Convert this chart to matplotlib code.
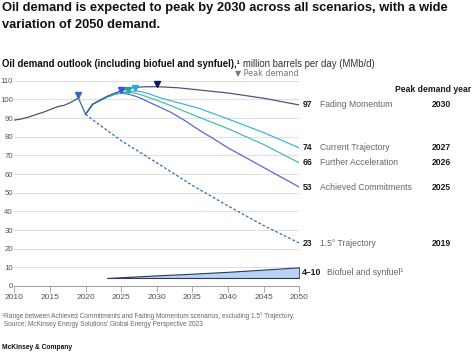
import matplotlib
matplotlib.use("Agg")
import matplotlib.pyplot as plt

plt.rcParams['font.family'] = ['Liberation Sans', 'DejaVu Sans']

# ---------------- data ----------------
hist_years = [2010, 2011, 2012, 2013, 2014, 2015, 2016, 2017, 2018, 2019]
hist_vals = [88.9, 89.5, 90.5, 91.8, 93.0, 94.5, 96.0, 96.8, 98.5, 100.7]

drop_years = [2019, 2020]
drop_vals = [100.7, 92.0]

fm_years = [2020, 2021, 2022, 2023, 2024, 2025, 2026, 2027, 2028, 2030, 2033, 2036, 2040, 2045, 2050]
fm_vals = [92.0, 97.4, 99.6, 101.6, 103.2, 104.6, 105.8, 106.4, 106.7, 106.8, 106.2, 105.0, 103.4, 100.6, 97.0]

ct_years = [2020, 2021, 2022, 2023, 2024, 2025, 2026, 2027, 2028, 2029, 2030, 2032, 2034, 2036, 2040, 2045, 2050]
ct_vals = [92.0, 97.4, 99.3, 101.2, 102.6, 103.6, 104.2, 104.5, 104.0, 102.9, 101.4, 99.2, 97.2, 95.1, 89.5, 82.2, 74.0]

fa_years = [2020, 2021, 2022, 2023, 2024, 2025, 2026, 2027, 2028, 2030, 2032, 2034, 2036, 2040, 2045, 2050]
fa_vals = [92.0, 97.4, 99.3, 101.2, 102.6, 103.5, 103.8, 103.3, 102.2, 99.5, 96.6, 93.4, 90.3, 84.3, 75.8, 66.0]

ac_years = [2020, 2021, 2022, 2023, 2024, 2025, 2026, 2027, 2028, 2029, 2030, 2032, 2034, 2036, 2038, 2040, 2045, 2050]
ac_vals = [92.0, 97.4, 99.3, 101.2, 102.6, 103.4, 102.8, 101.7, 100.2, 98.3, 96.6, 93.0, 88.5, 83.4, 78.8, 74.0, 63.5, 53.0]

t15_years = [2020, 2022, 2025, 2030, 2035, 2040, 2045, 2050]
t15_vals = [92.0, 86.2, 77.9, 66.0, 53.9, 42.9, 32.4, 23.0]

bio_years = [2023, 2030, 2035, 2040, 2045, 2050]
bio_low = [4.3, 4.3, 4.3, 4.3, 4.3, 4.3]
bio_high = [4.3, 5.7, 6.6, 7.6, 8.8, 10.0]

peak_years = [2019, 2025, 2026, 2027, 2030]
peak_vals = [100.7, 103.4, 103.8, 104.5, 106.8]

end_values = ["97", "74", "66", "53", "23", "4–10"]
end_positions = [97, 74, 66, 53, 23, 7.1]
end_names = ["Fading Momentum", "Current Trajectory", "Further Acceleration",
             "Achieved Commitments", "1.5° Trajectory", "Biofuel and synfuel¹"]
end_peak_years = ["2030", "2027", "2026", "2025", "2019", ""]

x_ticks = [2010, 2015, 2020, 2025, 2030, 2035, 2040, 2045, 2050]
y_ticks = [0, 10, 20, 30, 40, 50, 60, 70, 80, 90, 100, 110]

# ---------------- style ----------------
C_HIST = '#4a5570'
C_DROP = '#2f6faf'
C_FM, C_FM_M = '#4b5488', '#0b1a57'
C_CT, C_CT_M = '#3cb8dc', '#1faee2'
C_FA, C_FA_M = '#45c0a8', '#1fa795'
C_AC, C_AC_M = '#5a67d8', '#2d52e6'
C_15 = '#2f6faf'
peak_colors = [C_DROP, C_AC_M, C_FA_M, C_CT_M, C_FM_M]

W, H = 474, 357
fig = plt.figure(figsize=(W / 100, H / 100), dpi=100)
fig.patch.set_facecolor('white')

def fx(px):
    return px / W

def fy(py):
    return 1 - py / H

ax = fig.add_axes([fx(14.3), fy(286), fx(299.3) - fx(14.3), fy(80.7) - fy(286)])
ax.set_xlim(2010, 2050)
ax.set_ylim(0, 110)

lw = 0.9
ax.plot(hist_years, hist_vals, color=C_HIST, lw=lw, zorder=3)
ax.plot(drop_years, drop_vals, color=C_DROP, lw=lw, zorder=3)
ax.plot(t15_years, t15_vals, color=C_15, lw=lw, ls=(0, (2.2, 1.6)), zorder=3)
ax.plot(ac_years, ac_vals, color=C_AC, lw=lw, zorder=4)
ax.plot(fa_years, fa_vals, color=C_FA, lw=lw, zorder=4)
ax.plot(ct_years, ct_vals, color=C_CT, lw=lw, zorder=4)
ax.plot(fm_years, fm_vals, color=C_FM, lw=lw, zorder=4)

ax.fill_between(bio_years, bio_low, bio_high, facecolor='#b5d3f7',
                edgecolor='#2f3a55', lw=0.8, zorder=3)

for yr, v, c in zip(peak_years, peak_vals, peak_colors):
    ax.plot([yr], [v + 1.4], marker='v', ms=5, color=c, mec=c, ls='none',
            zorder=6, clip_on=False)

ax.set_xticks(x_ticks)
ax.set_yticks(y_ticks)
ax.yaxis.grid(True, color='#e0e0e0', lw=0.8)
ax.set_axisbelow(True)
for s in ['top', 'right', 'left']:
    ax.spines[s].set_visible(False)
ax.spines['bottom'].set_color('#9a9a9a')
ax.spines['bottom'].set_linewidth(0.7)
ax.tick_params(axis='x', direction='out', length=4, width=0.6, color='#9a9a9a',
               labelsize=6, labelcolor='#555555', pad=1.5)
ax.tick_params(axis='y', length=0, labelsize=5.6, labelcolor='#555555', pad=1.0)

# end labels
for val, pos, name, py in zip(end_values, end_positions, end_names, end_peak_years):
    ax.annotate(val, xy=(2050, pos), xytext=(3, 0), textcoords='offset pixels',
                ha='left', va='center', fontsize=6.2, fontweight='bold',
                color='#1a1a1a', annotation_clip=False)
    dx = 27.5 if len(val) > 2 else 21
    ax.annotate(name, xy=(2050, pos), xytext=(dx, 0), textcoords='offset pixels',
                ha='left', va='center', fontsize=6.2, color='#666666',
                annotation_clip=False)
    if py:
        ax.annotate(py, xy=(2050, pos), xytext=(132, 0), textcoords='offset pixels',
                    ha='left', va='center', fontsize=6.2, fontweight='bold',
                    color='#1a1a1a', annotation_clip=False)

fig.text(fx(471), fy(89), "Peak demand year", ha='right', va='center',
         fontsize=6.2, fontweight='bold', color='#1a1a1a')
fig.text(fx(299), fy(72.7), "▼ Peak demand", ha='right', va='center',
         fontsize=5.8, color='#777777', family=['DejaVu Sans'])

# titles
fig.text(fx(2), fy(8.5), "Oil demand is expected to peak by 2030 across all scenarios, with a wide",
         ha='left', va='center', fontsize=9.3, fontweight='bold', color='#111111')
fig.text(fx(2), fy(25), "variation of 2050 demand.",
         ha='left', va='center', fontsize=9.3, fontweight='bold', color='#111111')

t1 = fig.text(fx(2), fy(64), "Oil demand outlook (including biofuel and synfuel),¹",
              ha='left', va='center', fontsize=6.9, fontweight='bold', color='#111111')
fig.canvas.draw()
bb = t1.get_window_extent(renderer=fig.canvas.get_renderer())
fig.text(bb.x1 / W + fx(3), fy(64), "million barrels per day (MMb/d)",
         ha='left', va='center', fontsize=6.9, color='#333333')

# footnotes
fig.text(fx(2), fy(315.7), "¹Range between Achieved Commitments and Fading Momentum scenarios, excluding 1.5° Trajectory.",
         ha='left', va='center', fontsize=4.7, color='#666666')
fig.text(fx(2), fy(324.7), " Source: McKinsey Energy Solutions' Global Energy Perspective 2023",
         ha='left', va='center', fontsize=4.7, color='#666666')
fig.text(fx(2), fy(347.5), "McKinsey & Company",
         ha='left', va='center', fontsize=4.8, fontweight='bold', color='#111111')

fig.savefig("out.png", dpi=100, facecolor='white')
